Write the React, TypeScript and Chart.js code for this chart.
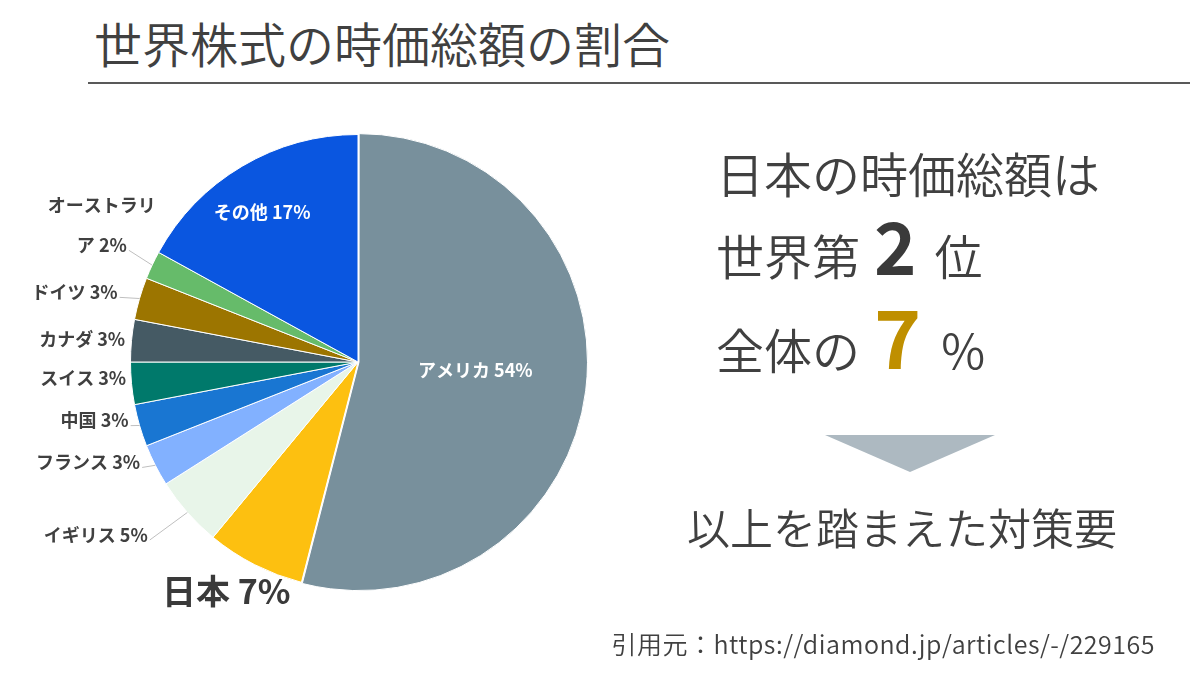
import React, { useEffect, useRef } from "react";
import { Chart, registerables } from "chart.js";

Chart.register(...registerables);

// ---- data ----
const countries = ["アメリカ", "日本", "イギリス", "フランス", "中国", "スイス", "カナダ", "ドイツ", "オーストラリア", "その他"];
const shares = [54, 7, 5, 3, 3, 3, 3, 3, 2, 17];
const sliceColors = ["#78909C", "#FDC010", "#E8F5E9", "#82B1FF", "#1976D2", "#00796B", "#455A64", "#9C7500", "#66BB6A", "#0A56E0"];

const titleText = "世界株式の時価総額の割合";
const line1 = "日本の時価総額は";
const rankPre = "世界第";
const rankNum = "2";
const rankPost = "位";
const sharePre = "全体の";
const shareNum = "7";
const sharePost = "%";
const conclusion = "以上を踏まえた対策要";
const sourceText = "引用元：https://diamond.jp/articles/-/229165";

// ---- label layout (style only) ----
type LabelStyle = {
  f: number; dx: number; dy: number; align: CanvasTextAlign;
  color: string; size: number; leader: boolean; wrapAt?: number; lineGap?: number;
};
const labelLayout: LabelStyle[] = [
  { f: 0.52, dx: 0, dy: -7, align: "center", color: "#ffffff", size: 18, leader: false },
  { f: 1.15, dx: -13, dy: -4, align: "center", color: "#3a3a3a", size: 34, leader: false },
  { f: 1.05, dx: -31, dy: 15, align: "right", color: "#404040", size: 18, leader: true },
  { f: 1.05, dx: -5, dy: -8, align: "right", color: "#404040", size: 18, leader: true },
  { f: 1.05, dx: 0, dy: -8, align: "right", color: "#404040", size: 18, leader: true },
  { f: 1.05, dx: 6, dy: -6, align: "right", color: "#404040", size: 18, leader: true },
  { f: 1.05, dx: 5, dy: 0, align: "right", color: "#404040", size: 18, leader: true },
  { f: 1.05, dx: -11, dy: -3, align: "right", color: "#404040", size: 18, leader: true },
  { f: 1.05, dx: -40, dy: -35, align: "center", color: "#404040", size: 18, leader: true, wrapAt: 6, lineGap: 40 },
  { f: 0.75, dx: -9, dy: -3, align: "center", color: "#ffffff", size: 18, leader: false },
];

const JP = '"Noto Sans CJK JP", "Noto Sans", sans-serif';

const pieLabels = {
  id: "pieLabels",
  afterDatasetsDraw(chart: any) {
    const ctx: CanvasRenderingContext2D = chart.ctx;
    const meta = chart.getDatasetMeta(0);
    meta.data.forEach((arc: any, i: number) => {
      const st = labelLayout[i];
      const { x, y, startAngle, endAngle, outerRadius } = arc.getProps(["x", "y", "startAngle", "endAngle", "outerRadius"], true);
      const mid = (startAngle + endAngle) / 2;
      const ax = x + Math.cos(mid) * outerRadius * st.f + st.dx;
      const ay = y + Math.sin(mid) * outerRadius * st.f + st.dy;
      const full = `${countries[i]} ${shares[i]}%`;
      let lines = [full];
      if (st.wrapAt && full.length > st.wrapAt) {
        lines = [full.slice(0, st.wrapAt), full.slice(st.wrapAt)];
      }
      const gap = st.lineGap || st.size * 1.2;
      ctx.save();
      ctx.font = `bold ${st.size}px ${JP}`;
      ctx.fillStyle = st.color;
      ctx.textAlign = st.align;
      ctx.textBaseline = "middle";
      const y0 = ay - ((lines.length - 1) * gap) / 2;
      lines.forEach((ln, k) => ctx.fillText(ln, ax, y0 + k * gap));
      if (st.leader) {
        const last = lines[lines.length - 1];
        const w = ctx.measureText(last).width;
        let right = ax;
        if (st.align === "center") right = ax + w / 2;
        else if (st.align === "left") right = ax + w;
        const ex = right + 2;
        const ey = y0 + (lines.length - 1) * gap + 5;
        const sx = x + Math.cos(mid) * outerRadius;
        const sy = y + Math.sin(mid) * outerRadius;
        if (Math.hypot(sx - ex, sy - ey) > 8) {
          ctx.strokeStyle = "#BFBFBF";
          ctx.lineWidth = 1;
          ctx.beginPath();
          ctx.moveTo(sx, sy);
          ctx.lineTo(ex, ey);
          ctx.stroke();
        }
      }
      ctx.restore();
    });
  },
};

function PieChart() {
  const ref = useRef<HTMLCanvasElement | null>(null);
  useEffect(() => {
    if (!ref.current) return;
    const chart = new Chart(ref.current, {
      type: "pie",
      data: {
        labels: countries,
        datasets: [
          {
            data: shares,
            backgroundColor: sliceColors,
            borderColor: "#ffffff",
            borderWidth: 1,
            offset: shares.map((_, i) => (i === 0 ? 4 : 0)),
          },
        ],
      },
      options: {
        animation: false,
        responsive: false,
        devicePixelRatio: 1,
        layout: { padding: { left: 128, top: 132, right: 132, bottom: 83 } },
        plugins: { legend: { display: false }, tooltip: { enabled: false } },
      },
      plugins: [pieLabels],
    });
    return () => chart.destroy();
  }, []);
  return (
    <canvas
      ref={ref}
      width={720}
      height={675}
      style={{ position: "absolute", left: 0, top: 0, width: 720, height: 675 }}
    />
  );
}

const textBase: React.CSSProperties = {
  position: "absolute",
  fontFamily: JP,
  color: "#404040",
  whiteSpace: "nowrap",
  margin: 0,
  fontWeight: 350,
};

export default function App() {
  return (
    <div style={{ position: "absolute", left: 0, top: 0, width: 1200, height: 675, background: "#fff", overflow: "hidden" }}>
      <div style={{ ...textBase, left: 94, top: 14, fontSize: 48, lineHeight: "56px" }}>{titleText}</div>
      <div style={{ position: "absolute", left: 88, top: 82, width: 1102, height: 2, background: "#595959" }} />
      <PieChart />
      <div style={{ ...textBase, left: 716, top: 144, fontSize: 48, lineHeight: "56px" }}>{line1}</div>
      <div style={{ ...textBase, left: 716, top: 209, height: 70, display: "flex", alignItems: "baseline", fontSize: 48, lineHeight: "70px" }}>
        <span>{rankPre}</span>
        <span style={{ fontSize: 72, fontWeight: 700, margin: "0 18px 0 14px", color: "#3a3a3a" }}>{rankNum}</span>
        <span>{rankPost}</span>
      </div>
      <div style={{ ...textBase, left: 716, top: 296, height: 76, display: "flex", alignItems: "baseline", fontSize: 48, lineHeight: "76px" }}>
        <span>{sharePre}</span>
        <span style={{ fontSize: 80, fontWeight: 700, margin: "0 20px 0 14px", color: "#BF8F00" }}>{shareNum}</span>
        <span>{sharePost}</span>
      </div>
      <svg style={{ position: "absolute", left: 0, top: 0 }} width={1200} height={675}>
        <polygon points="825,435 995,435 910,472" fill="#ADB9C1" />
      </svg>
      <div style={{ ...textBase, left: 687, top: 500, fontSize: 43, lineHeight: "52px" }}>{conclusion}</div>
      <div style={{ ...textBase, right: 45, top: 627, fontSize: 25, lineHeight: "32px", letterSpacing: "0.5px" }}>{sourceText}</div>
    </div>
  );
}
